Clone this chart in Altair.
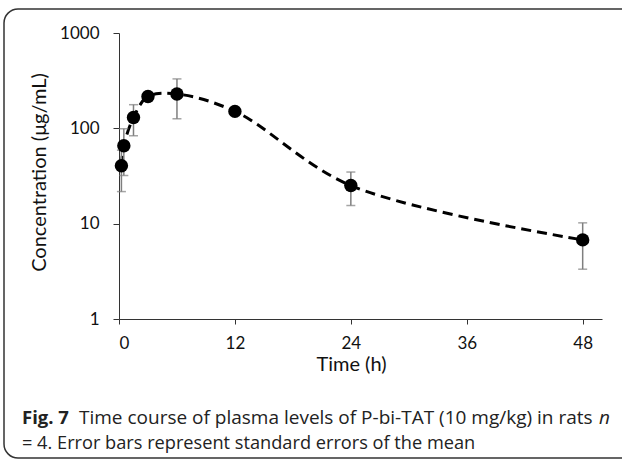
import altair as alt
import pandas as pd

# data
time_h = [0.25, 0.5, 1.5, 3, 6, 12, 24, 48]
conc = [40.5, 65.6, 130, 216, 229, 150.6, 25.1, 6.76]
err_low = [21.7, 32, 83.6, 200, 126, 142, 15.5, 3.33]
err_high = [59, 99, 177, 232, 330, 159, 34.8, 10.2]

x_ticks = [0, 12, 24, 36, 48]
y_ticks = [1, 10, 100, 1000]

caption_bold = "Fig. 7"
caption_line1 = "Time course of plasma levels of P-bi-TAT (10 mg/kg) in rats"
caption_n = "n"
caption_line2 = "= 4. Error bars represent standard errors of the mean"

df = pd.DataFrame({"t": time_h, "c": conc, "lo": err_low, "hi": err_high})

AX_FONT = "Lato"
CAP_FONT = "Open Sans"

xs = alt.Scale(domain=[0, 50], nice=False, zero=False)
ys = alt.Scale(type="log", domain=[1, 1000], nice=False)

xax = alt.Axis(values=x_ticks, title="Time (h)", grid=False, domain=True,
               domainColor="#333", tickColor="#333", tickSize=5,
               labelFont=AX_FONT, labelFontSize=17, labelColor="#111",
               labelPadding=11, titleFont=AX_FONT, titleFontSize=20,
               titleFontWeight="normal", titleColor="#111", titlePadding=3,
               titleX=232, titleAlign="center")
yax = alt.Axis(values=y_ticks, title="Concentration (μg/mL)", grid=False,
               domain=True, domainColor="#333", tickColor="#333", tickSize=6,
               labelFont=AX_FONT, labelFontSize=17, labelColor="#111",
               labelPadding=14, titleFont=AX_FONT, titleFontSize=20,
               titleFontWeight="normal", titleColor="#111", titlePadding=10,
               titleY=139, titleAlign="center", format="d")

base = alt.Chart(df)

line = base.mark_line(color="black", strokeWidth=3, strokeDash=[10, 6],
                      interpolate="catmull-rom").encode(
    x=alt.X("t:Q", scale=xs, axis=xax),
    y=alt.Y("c:Q", scale=ys, axis=yax),
)

rules = base.mark_rule(color="#7f7f7f", strokeWidth=1.5).encode(
    x="t:Q", y="lo:Q", y2="hi:Q")
cap_lo = base.mark_tick(color="#7f7f7f", thickness=1.5, size=9,
                        orient="horizontal").encode(x="t:Q", y="lo:Q")
cap_hi = base.mark_tick(color="#7f7f7f", thickness=1.5, size=9,
                        orient="horizontal").encode(x="t:Q", y="hi:Q")

points = base.mark_circle(color="black", opacity=1, size=180).encode(
    x="t:Q", y="c:Q")

frame = alt.Chart(pd.DataFrame({"a": [0]})).mark_rect(
    fill=None, stroke="#333", strokeWidth=1.5, cornerRadius=14).encode(
    x=alt.value(-115), x2=alt.value(530), y=alt.value(-24), y2=alt.value(425))

def txt(s, x, y, size, bold=False, italic=False):
    return alt.Chart(pd.DataFrame({"s": [s]})).mark_text(
        font=CAP_FONT, fontSize=size, align="left", baseline="alphabetic",
        fontWeight="bold" if bold else "normal",
        fontStyle="italic" if italic else "normal", color="#222").encode(
        text="s:N", x=alt.value(x), y=alt.value(y))

cap1 = txt(caption_bold, -97, 391, 18.5, bold=True)
cap2 = txt(caption_line1, -40, 391, 19)
cap3 = txt(caption_n, 480, 391, 19, italic=True)
cap4 = txt(caption_line2, -97, 416, 18.2)

chart = alt.layer(frame, line, rules, cap_lo, cap_hi, points,
                  cap1, cap2, cap3, cap4).properties(
    width=483, height=286,
    padding={"left": 119, "top": 33, "right": 20, "bottom": 140},
    autosize=alt.AutoSizeParams(type="none"),
).configure_view(stroke=None)

chart.save("out.html", embed_options={"renderer": "svg", "actions": False})
